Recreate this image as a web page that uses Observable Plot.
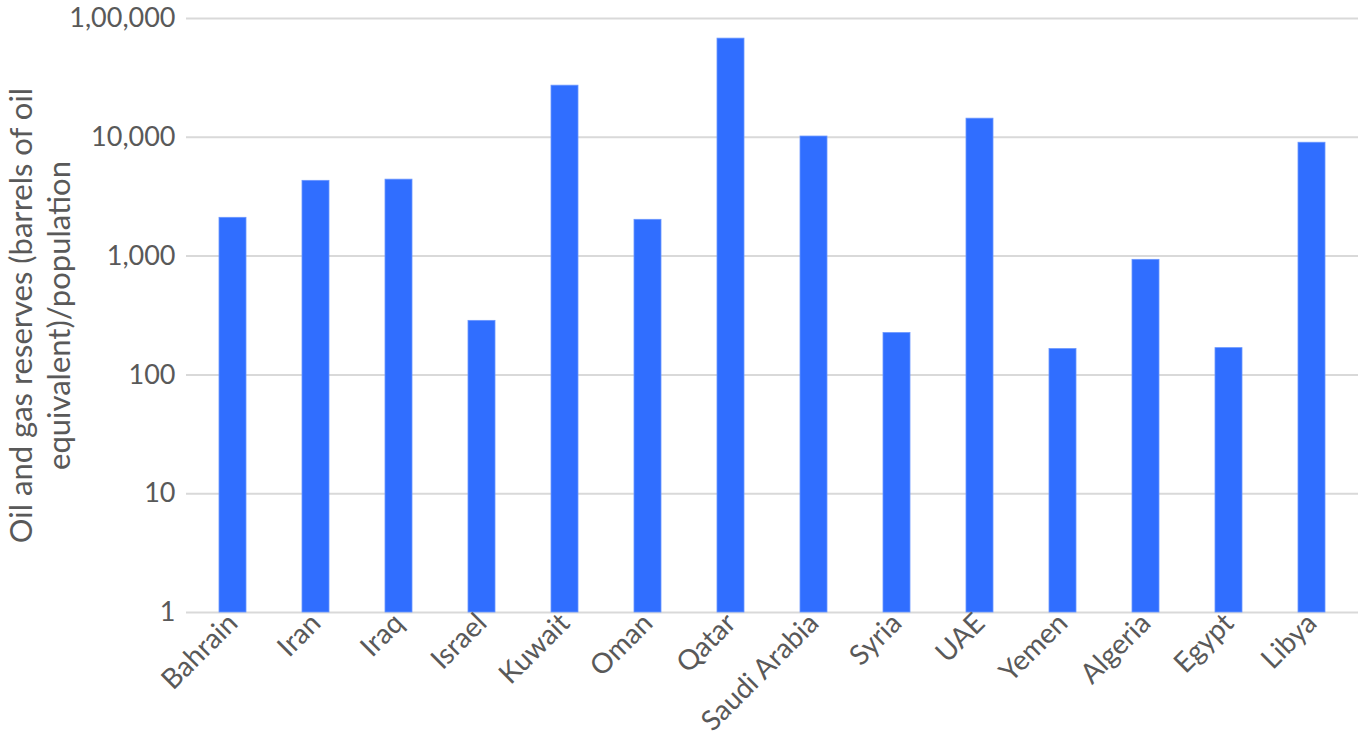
<!DOCTYPE html>
<html>
<head>
<meta charset="utf-8">
<script src="https://cdn.jsdelivr.net/npm/d3@7"></script>
<script src="https://cdn.jsdelivr.net/npm/@observablehq/plot@0.6"></script>
<style>
  html, body { margin: 0; padding: 0; background: #fff; }
  #chart svg { display: block; }
</style>
</head>
<body>
<div id="chart"></div>
<script>
const countries = ["Bahrain", "Iran", "Iraq", "Israel", "Kuwait", "Oman", "Qatar", "Saudi Arabia", "Syria", "UAE", "Yemen", "Algeria", "Egypt", "Libya"];
const reserves = [2100, 4300, 4400, 285, 27200, 2020, 67700, 10150, 225, 14350, 165, 930, 168, 9000];
const yTicks = [1, 10, 100, 1000, 10000, 100000];
const yLabel = "Oil and gas reserves (barrels of oil\nequivalent)/population";

const data = countries.map((c, i) => ({country: c, value: reserves[i]}));
const fmt = v => v.toLocaleString("en-IN");
const textColor = "#595959";
const font = "Lato, 'Open Sans', sans-serif";

const chart = Plot.plot({
  width: 1358,
  height: 742,
  marginLeft: 186,
  marginRight: 0,
  marginTop: 18,
  marginBottom: 130,
  style: {fontFamily: font, color: textColor, background: "#fff"},
  x: {domain: countries, paddingInner: 0.677, paddingOuter: 0.3385, align: 0.5},
  y: {type: "log", domain: [1, 100000]},
  marks: [
    Plot.ruleY(yTicks, {stroke: "#d9d9d9", strokeWidth: 2}),
    Plot.barY(data, {x: "country", y1: 1, y2: "value", fill: "#306EFF", stroke: "#6a96ff", strokeWidth: 0.8}),
    Plot.axisY({ticks: yTicks, tickFormat: fmt, tickSize: 0, tickPadding: 11, fontSize: 27, label: null, fill: textColor}),
    Plot.axisX({tickRotate: -45, tickSize: 0, tickPadding: 6, fontSize: 28, label: null, fill: textColor}),
    Plot.text([yLabel], {frameAnchor: "left", dx: -148, rotate: -90, fontSize: 31, lineHeight: 1.25, fill: textColor, textAnchor: "middle"})
  ]
});
document.getElementById("chart").appendChild(chart);
</script>
</body>
</html>
